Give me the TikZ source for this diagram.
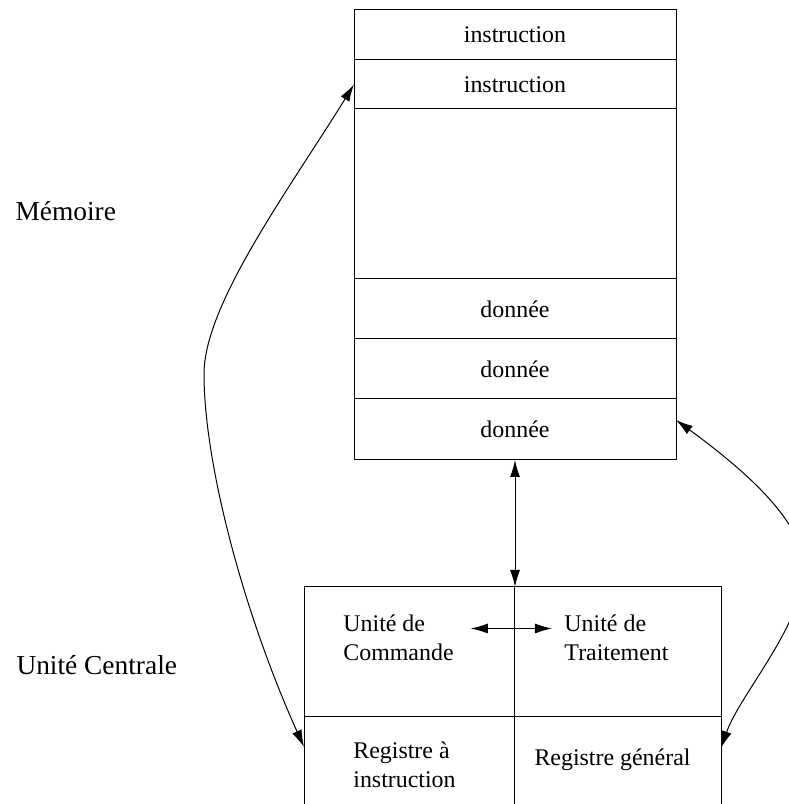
\documentclass[tikz,border=0pt]{standalone}
\usepackage{fontspec}
\setmainfont{Liberation Serif}
\usetikzlibrary{positioning,arrows.meta}

\begin{document}
\begin{tikzpicture}[>={Latex[length=8.5bp,width=5bp]},line join=bevel,
  font=\fontsize{12}{14.5}\selectfont]
  \pgfsetlinewidth{0.5bp}
  \tikzset{cell/.style={draw,inner sep=0pt,outer sep=0pt,minimum width=161bp,anchor=north},
           ucell/.style={draw,inner sep=0pt,outer sep=0pt,anchor=north west,minimum height=65bp},
           lbl/.style={align=left},
           side/.style={anchor=west,inner sep=0pt,font=\fontsize{13.75}{16}\selectfont}}
  \useasboundingbox (0bp,0bp) rectangle (394.5bp,402bp);
%%
  % Node: memory cells
  \node[cell,minimum height=25bp] (m1) at (257.5bp,397bp) {instruction};
  \node[cell,minimum height=24.5bp,below=0pt of m1] (m2) {instruction};
  \node[cell,minimum height=85bp,below=0pt of m2] (m3) {};
  \node[cell,minimum height=30bp,below=0pt of m3] (d1) {donnée};
  \node[cell,minimum height=30bp,below=0pt of d1] (d2) {donnée};
  \node[cell,minimum height=30.5bp,below=0pt of d2] (d3) {donnée};
  % Node: central unit
  \node[ucell,minimum width=105bp] (cmd) at (152bp,108.5bp) {};
  \node[ucell,minimum width=103.5bp,right=0pt of cmd] (trt) {};
  \node[ucell,minimum width=105bp,below=0pt of cmd] (ri) {};
  \node[ucell,minimum width=103.5bp,right=0pt of ri] (rg) {};
  \node[lbl] (cmdlbl) at (199.25bp,83.25bp) {Unité de\\Commande};
  \node[lbl] (trtlbl) at (308.25bp,83.25bp) {Unité de\\Traitement};
  \node[lbl] (rilbl) at (202.25bp,19.5bp) {Registre à\\instruction};
  \node (rglbl) at (306.25bp,22bp) {Registre général};
  % Node: side labels
  \node[side] (mem) at (7.5bp,296.5bp) {Mémoire};
  \node[side] (uc) at (8bp,69.5bp) {Unité Centrale};
%%
  % Edge: d3 -> cmd
  \draw [<->] (d3.south) -- (d3.south |- cmd.north);
  % Edge: cmdlbl -> trtlbl
  \draw [<->,shorten <=5bp,shorten >=2.7bp] ([yshift=4.5bp]cmdlbl.east) -- ([yshift=4.5bp]trtlbl.west);
  % Edge: m2 -> ri
  \draw [<->] (m2.west) .. controls (145bp,308bp) and (102bp,250bp) .. (102bp,215bp)
    .. controls (102bp,170bp) and (122bp,95bp) .. ([yshift=-15bp]ri.north west);
  % Edge: d3 -> rg
  \draw [<->] ([yshift=4.75bp]d3.east) .. controls (375bp,165bp) and (402bp,140bp) .. (402bp,118bp)
    .. controls (402bp,90bp) and (370bp,55bp) .. ([yshift=-15.5bp]rg.north east);
%
\end{tikzpicture}
\end{document}
